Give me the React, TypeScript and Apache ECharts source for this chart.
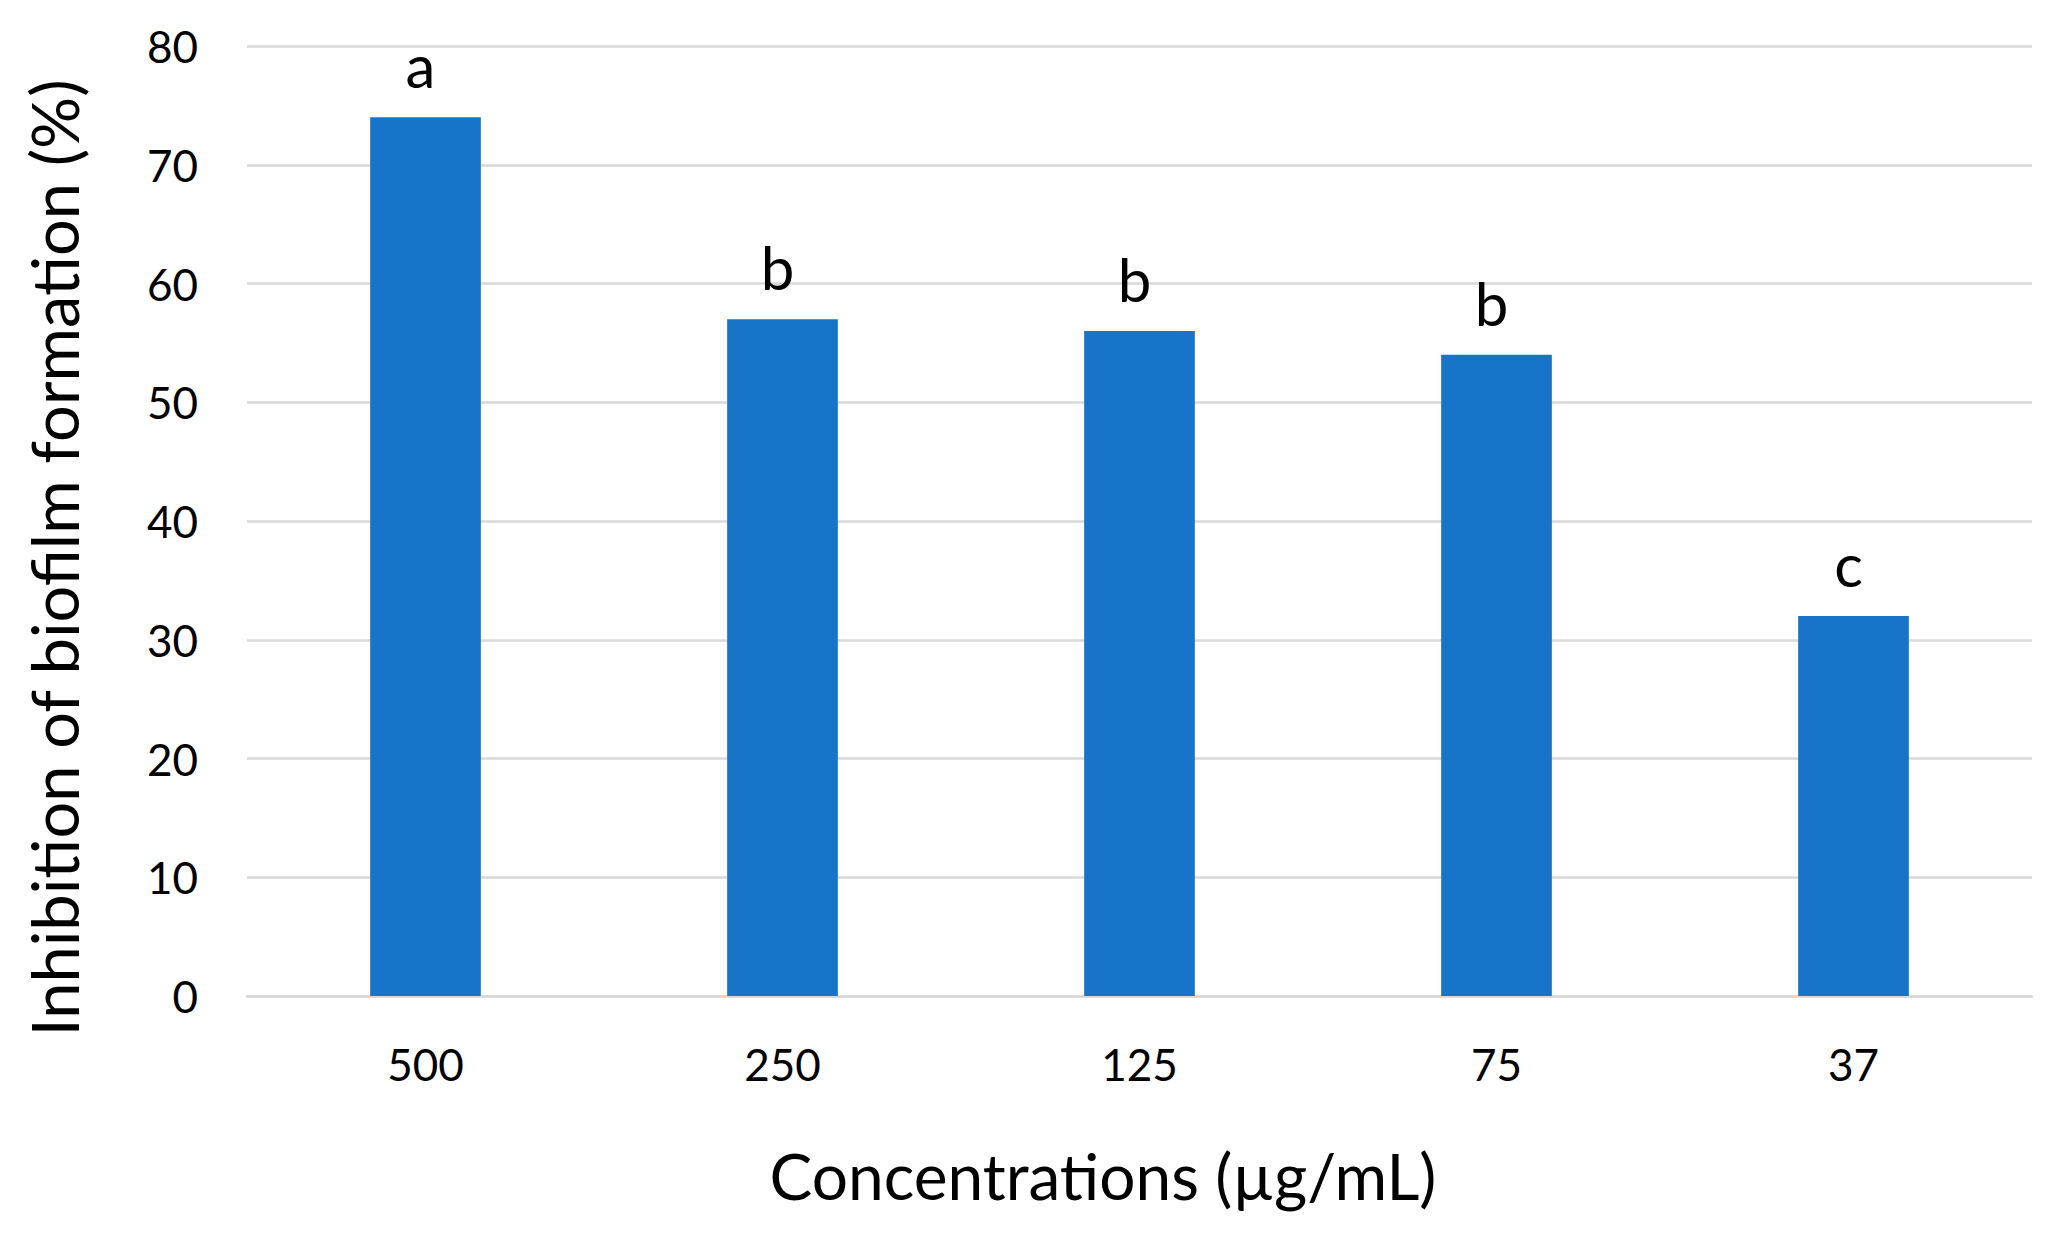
import React, { useEffect, useRef } from "react";
import * as echarts from "echarts";

const categories = ["500", "250", "125", "75", "37"];
const inhibition = [74, 57, 56, 54, 32];
const letters = ["a", "b", "b", "b", "c"];
const yTicks = { min: 0, max: 80, interval: 10 };
const xTitle = "Concentrations (µg/mL)";
const yTitle = "Inhibition of biofilm formation (%)";

const FONT = "Lato";

export default function App() {
  const ref = useRef<HTMLDivElement>(null);
  useEffect(() => {
    if (!ref.current) return;
    const chart = echarts.init(ref.current, undefined, { renderer: "svg" });
    chart.setOption({
      animation: false,
      backgroundColor: "#ffffff",
      grid: { left: 247, right: 23, top: 46, bottom: 241, containLabel: false },
      xAxis: {
        type: "category",
        data: categories,
        axisLine: { show: true, lineStyle: { color: "#d9d9d9", width: 2.5 } },
        axisTick: { show: false },
        axisLabel: { fontFamily: FONT, fontSize: 44, color: "#000", margin: 46 },
      },
      yAxis: {
        type: "value",
        min: yTicks.min,
        max: yTicks.max,
        interval: yTicks.interval,
        axisLine: { show: false },
        axisTick: { show: false },
        splitLine: { lineStyle: { color: "#d9d9d9", width: 2.5 } },
        axisLabel: { fontFamily: FONT, fontSize: 44, color: "#000", margin: 49 },
      },
      series: [
        {
          type: "bar",
          data: inhibition,
          barWidth: "31%",
          itemStyle: { color: "#1874c8" },
          label: {
            show: true,
            position: "top",
            distance: 22,
            offset: [-5, 0],
            fontFamily: FONT,
            fontSize: 60,
            color: "#000",
            formatter: (p: any) => letters[p.dataIndex],
          },
        },
      ],
      graphic: [
        {
          type: "text",
          x: 1103,
          y: 1175,
          style: {
            text: xTitle,
            fontFamily: FONT,
            fontSize: 64,
            fill: "#000",
            textAlign: "center",
            textVerticalAlign: "middle",
          },
        },
        {
          type: "text",
          x: 54,
          y: 558,
          rotation: Math.PI / 2,
          style: {
            text: yTitle,
            fontFamily: FONT,
            fontSize: 65,
            fill: "#000",
            textAlign: "center",
            textVerticalAlign: "middle",
          },
        },
      ],
    });
    return () => chart.dispose();
  }, []);
  return (
    <div
      ref={ref}
      style={{ position: "absolute", left: 0, top: 0, width: 2055, height: 1237 }}
    />
  );
}
